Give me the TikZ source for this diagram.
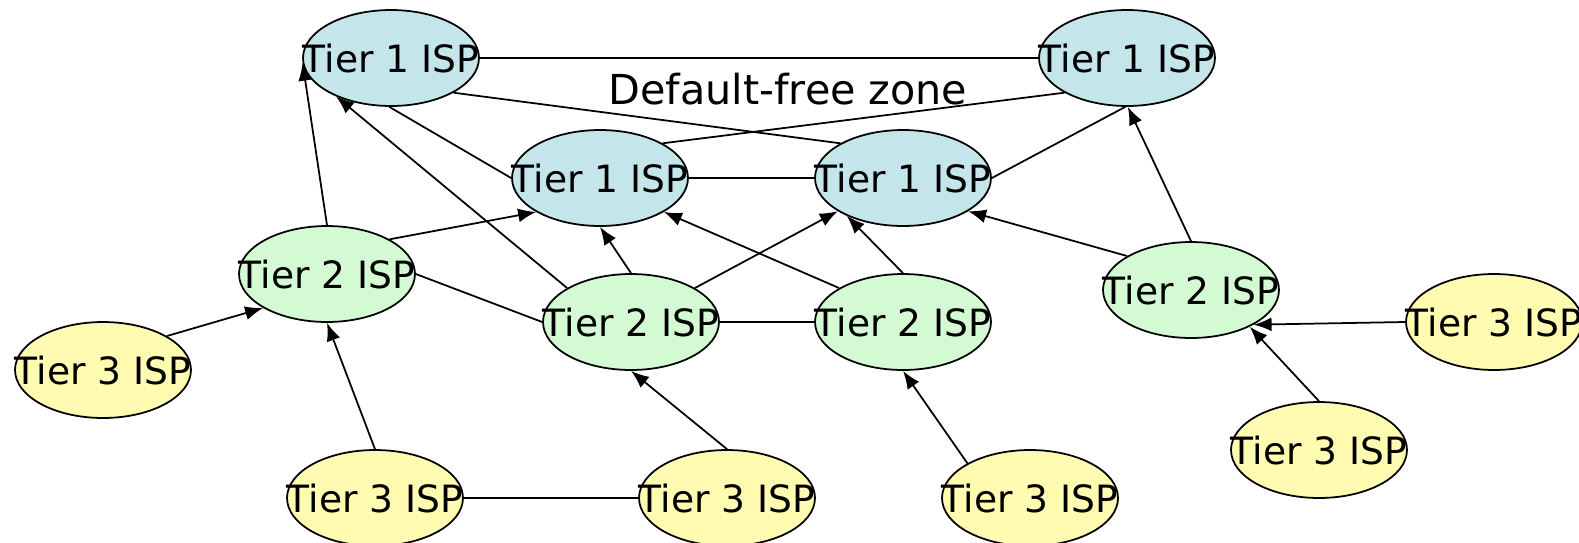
\documentclass[tikz,border=0pt]{standalone}
\usepackage{fontspec}
\setmainfont{DejaVu Sans}
\usetikzlibrary{arrows.meta,shapes.geometric}
\definecolor{tone}{RGB}{196,229,233}
\definecolor{ttwo}{RGB}{212,250,212}
\definecolor{tthree}{RGB}{255,251,176}
\tikzset{
  isp/.style={ellipse, draw=black, line width=1pt, minimum width=3.52cm, minimum height=1.92cm, inner sep=0pt, font=\fontsize{21.4}{24}\selectfont},
  tier1/.style={isp, fill=tone},
  tier2/.style={isp, fill=ttwo},
  tier3/.style={isp, fill=tthree},
  link/.style={line width=1pt, draw=black},
  arr/.style={link, -{Latex[length=0.36cm,width=0.28cm]}}
}
\begin{document}
\begin{tikzpicture}[x=0.02cm,y=-0.02cm]
\useasboundingbox (0,0) rectangle (1579,542);
\node[tier1] (T1a) at (391,58) {\makebox[0pt]{Tier 1 ISP}};
\node[tier1] (T1b) at (1127,58) {\makebox[0pt]{Tier 1 ISP}};
\node[tier1] (T1c) at (600,178) {\makebox[0pt]{Tier 1 ISP}};
\node[tier1] (T1d) at (903,178) {\makebox[0pt]{Tier 1 ISP}};
\node[tier2] (T2L) at (327,274) {\makebox[0pt]{Tier 2 ISP}};
\node[tier2] (T2M) at (631,322) {\makebox[0pt]{Tier 2 ISP}};
\node[tier2] (T2MR) at (903,322) {\makebox[0pt]{Tier 2 ISP}};
\node[tier2] (T2R) at (1191,290) {\makebox[0pt]{Tier 2 ISP}};
\node[tier3] (T3L) at (103,370) {\makebox[0pt]{Tier 3 ISP}};
\node[tier3] (T3BL) at (375,498) {\makebox[0pt]{Tier 3 ISP}};
\node[tier3] (T3BM) at (727,498) {\makebox[0pt]{Tier 3 ISP}};
\node[tier3] (T3BR) at (1030,498) {\makebox[0pt]{Tier 3 ISP}};
\node[tier3] (T3R) at (1494,322) {\makebox[0pt]{Tier 3 ISP}};
\node[tier3] (T3LR) at (1319,450) {\makebox[0pt]{Tier 3 ISP}};
\node[font=\fontsize{23.5}{26}\selectfont, inner sep=0pt] (dfz) at (788,89) {Default-free zone};
% tier 1 mesh
\draw[link] (T1a.east) -- (T1b.west);
\draw[link] (T1a.-29) -- (T1d.151);
\draw[link] (T1b.209) -- (T1c.29);
\draw[link] (T1a.268) -- (T1c.west);
\draw[link] (T1c.east) -- (T1d.west);
\draw[link] (T1d.east) -- (T1b.268);
% tier 2 to tier 1
\draw[arr] (T2L.north) -- (T1a.183);
\draw[arr] (T2L.29) -- (T1c.208);
\draw[link] (T2L.east) -- (T2M.west);
\draw[arr] (T2M.152) -- (T1a.215);
\draw[arr] (T2M.north) -- (T1c.south);
\draw[arr] (T2M.28) -- (T1d.207);
\draw[link] (T2M.east) -- (T2MR.west);
\draw[arr] (T2MR.152) -- (T1c.332);
\draw[arr] (T2MR.north) -- (T1d.214);
\draw[arr] (T2R.152) -- (T1d.333);
\draw[arr] (T2R.north) -- (T1b.271);
% tier 3 to tier 2
\draw[arr] (T3L.28) -- (T2L.208);
\draw[arr] (T3BL.north) -- (T2L.south);
\draw[link] (T3BL.east) -- (T3BM.west);
\draw[arr] (T3BM.north) -- (T2M.south);
\draw[arr] (T3BR.151) -- (T2MR.south);
\draw[arr] (T3R.west) -- (T2R.331);
\draw[arr] (T3LR.north) -- (T2R.328);
\end{tikzpicture}
\end{document}
